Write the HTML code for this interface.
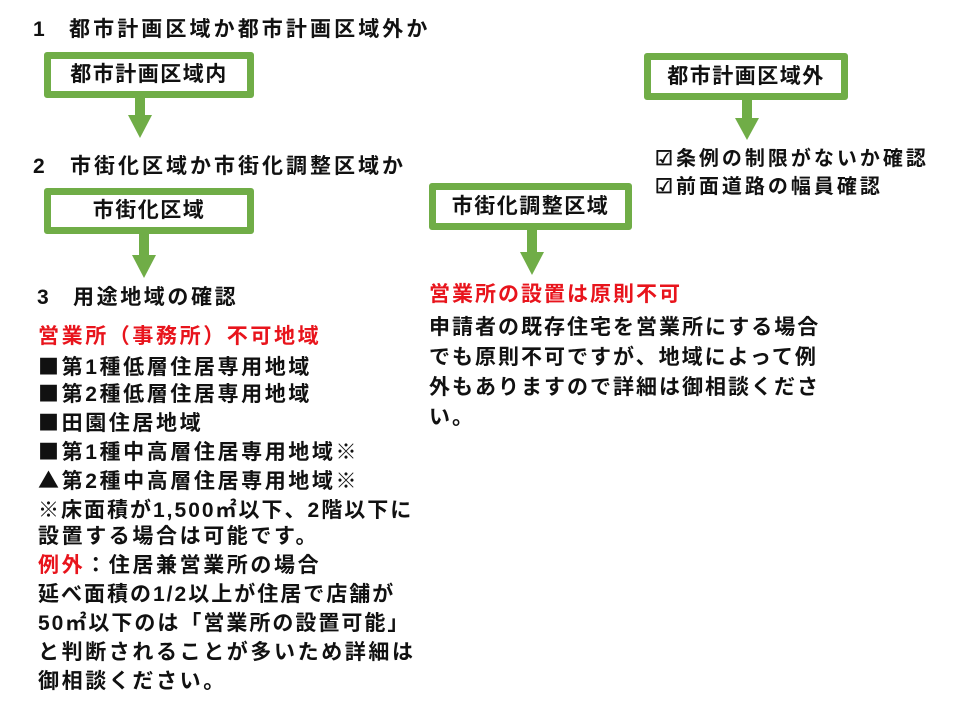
<!DOCTYPE html>
<html><head><meta charset="utf-8"><style>
body{margin:0;background:#fff;width:960px;height:720px;position:relative;overflow:hidden;font-family:"Liberation Sans","Noto Sans CJK JP",sans-serif;font-weight:bold;color:#111;}
.t{position:absolute;white-space:nowrap;font-size:21px;letter-spacing:2px;line-height:28px;}
.l{letter-spacing:2.6px;}
.j{font-family:"Noto Sans CJK JP",sans-serif;}
.r{color:#e8141c;}
.box{position:absolute;border:7px solid #70ad47;border-radius:3px;background:#fff;box-sizing:border-box;text-align:center;font-size:21px;letter-spacing:1.5px;}
</style></head><body>
<div class="t" style="left:33px;top:16px">1</div>
<div class="t" style="left:69px;top:16px;letter-spacing:3.1px">都市計画区域か都市計画区域外か</div>
<div class="box" style="left:44px;top:52px;width:210px;height:46px;line-height:32px">都市計画区域内</div>
<div class="t" style="left:33px;top:153px">2</div>
<div class="t" style="left:70px;top:153px;letter-spacing:3px">市街化区域か市街化調整区域か</div>
<div class="box" style="left:44px;top:188px;width:210px;height:46px;line-height:32px">市街化区域</div>
<div class="t" style="left:37px;top:284px">3</div>
<div class="t" style="left:73px;top:284px;letter-spacing:2.6px">用途地域の確認</div>

<div class="box" style="left:644px;top:53px;width:204px;height:47px;line-height:33px">都市計画区域外</div>
<div class="t" style="left:655px;top:143px;font-size:20px;letter-spacing:3px"><span class="j">☑</span>条例の制限がないか確認</div>
<div class="t" style="left:655px;top:171px;font-size:20px;letter-spacing:3px"><span class="j">☑</span>前面道路の幅員確認</div>
<div class="box" style="left:429px;top:183px;width:203px;height:47px;line-height:33px">市街化調整区域</div>
<div class="t r" style="left:429px;top:281px">営業所の設置は原則不可</div>
<div class="t" style="left:429px;top:314px">申請者の既存住宅を営業所にする場合</div>
<div class="t" style="left:429px;top:344px">でも原則不可ですが、地域によって例</div>
<div class="t" style="left:429px;top:374px">外もありますので詳細は御相談くださ</div>
<div class="t" style="left:429px;top:404px">い。</div>

<div class="t r l" style="left:38px;top:323px">営業所（事務所）不可地域</div>
<div class="t l" style="left:38px;top:352px"><span class="j">■</span>第1種低層住居専用地域</div>
<div class="t l" style="left:38px;top:379px"><span class="j">■</span>第2種低層住居専用地域</div>
<div class="t l" style="left:38px;top:408px"><span class="j">■</span>田園住居地域</div>
<div class="t l" style="left:38px;top:437px"><span class="j">■</span>第1種中高層住居専用地域<span class="j">※</span></div>
<div class="t l" style="left:38px;top:466px"><span class="j">▲</span>第2種中高層住居専用地域<span class="j">※</span></div>
<div class="t" style="left:38px;top:495px"><span class="j">※</span>床面積が1,500㎡以下、2階以下に</div>
<div class="t l" style="left:38px;top:523px">設置する場合は可能です。</div>
<div class="t l" style="left:38px;top:552px"><span class="r">例外</span>：住居兼営業所の場合</div>
<div class="t" style="left:38px;top:581px">延べ面積の1/2以上が住居で店舗が</div>
<div class="t" style="left:38px;top:610px">50㎡以下のは「営業所の設置可能」</div>
<div class="t l" style="left:38px;top:639px">と判断されることが多いため詳細は</div>
<div class="t l" style="left:38px;top:668px">御相談ください。</div>

<svg width="960" height="720" style="position:absolute;left:0;top:0" xmlns="http://www.w3.org/2000/svg">
<g fill="#70ad47">
<rect x="135" y="98" width="10" height="17"/><polygon points="128,115 152,115 140,138"/>
<rect x="139" y="234" width="10" height="22"/><polygon points="132,255 156,255 144,278"/>
<rect x="742" y="100" width="10" height="18"/><polygon points="735,118 759,118 747,140"/>
<rect x="527" y="230" width="10" height="23"/><polygon points="520,252 544,252 532,275"/>
</g></svg>
</body></html>
